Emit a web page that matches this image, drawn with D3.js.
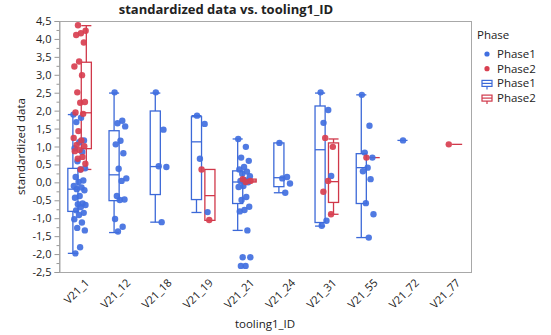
<!DOCTYPE html>
<html>
  <head>
    <meta charset="utf-8">
    <style>
    body {
      margin: 0px;
      background: white;
    }
    text {
      font-family: "Open Sans", "Noto Sans", sans-serif;
      fill: #222;
    }
    </style>
  </head>
  <body>
    <div id="elm"></div>

    <script src="https://d3js.org/d3.v7.min.js"></script>
    <script>
    'use strict';

    // tooling IDs along the x axis
    var categories = ['V21_1', 'V21_12', 'V21_18', 'V21_19', 'V21_21', 'V21_24', 'V21_31', 'V21_55', 'V21_72', 'V21_77'];
    var phases = ['Phase1', 'Phase2'];

    // standardized values per tooling, Phase1
    var phase1Points = [
      [1.89, 1.80, 1.68, 1.17, 1.12, 0.95, 0.85, 0.59, 0.39, 0.36, 0.15, 0.05, 0.01, -0.10, -0.14, -0.19, -0.22, -0.38, -0.43,
       -0.59, -0.61, -0.63, -0.69, -0.78, -0.85, -0.91, -1.03, -1.12, -1.27, -1.34, -1.81, -1.98],
      [2.51, 1.72, 1.65, 1.56, 1.16, 1.06, 0.81, 0.38, 0.11, 0.04, -0.38, -0.48, -0.49, -1.02, -1.24, -1.37],
      [2.51, 1.47, 0.45, 0.43, -1.11],
      [1.86, 1.63, 0.66, -0.83],
      [1.21, 0.99, 0.69, 0.60, 0.43, 0.36, 0.30, 0.24, 0.17, 0.06, 0.04, 0.00, -0.10, -0.13, -0.41, -0.49, -0.68, -0.77,
       -0.81, -1.34, -2.09, -2.09, -2.33, -2.33],
      [1.10, 0.15, 0.11, -0.03, -0.29],
      [2.51, 2.02, 1.66, 0.18, -1.07, -1.21],
      [2.44, 1.58, 0.83, 0.69, 0.41, 0.31, 0.09, -0.58, -0.89, -1.54],
      [1.17],
      []
    ];

    // standardized values per tooling, Phase2
    var phase2Points = [
      [4.38, 4.23, 4.16, 4.11, 3.90, 3.37, 3.23, 2.99, 2.51, 2.24, 2.22, 1.95, 1.91, 1.43, 1.24, 1.17, 1.04, 1.01, 0.90,
       0.87, 0.71, 0.66, 0.52, 0.36],
      [], [],
      [0.36, -1.05],
      [0.09, 0.04, 0.01],
      [],
      [1.24, 0.99, 0.04, -0.26, -0.89],
      [0.69],
      [],
      [1.06]
    ];

    // box stats: [low whisker, q1, median, q3, high whisker]
    var phase1Boxes = [
      [-1.98, -0.81, -0.19, 0.39, 1.89],
      [-1.40, -0.51, 0.21, 1.44, 2.49],
      [-1.11, -0.34, 0.44, 1.99, 2.49],
      [-0.84, -0.48, 1.13, 1.83, 1.86],
      [-1.34, -0.59, 0.01, 0.32, 1.21],
      [-0.29, -0.12, 0.13, 1.10, 1.10],
      [-1.22, -1.12, 0.91, 2.13, 2.49],
      [-1.54, -0.59, 0.41, 0.80, 2.44],
      [1.17, 1.17, 1.17, 1.17, 1.17],
      null
    ];
    var phase2Boxes = [
      [0.36, 0.94, 1.94, 3.35, 4.37],
      null, null,
      [-1.06, -1.06, -0.37, 0.36, 0.36],
      [0.01, 0.01, 0.04, 0.09, 0.09],
      null,
      [-0.89, -0.56, 0.02, 1.10, 1.21],
      [0.69, 0.69, 0.69, 0.69, 0.69],
      null,
      [1.06, 1.06, 1.06, 1.06, 1.06]
    ];

    var yMajorTicks = d3.range(-2.5, 4.51, 0.5);
    var yMinorTicks = d3.range(-2.25, 4.5, 0.5);

    var width = 551, height = 335;
    var margin = { top: 21, right: 80, bottom: 63, left: 59 };
    var plotW = 471 - margin.left, plotH = 272 - margin.top;

    var dotColor = { Phase1: '#416fe0', Phase2: '#d83f50' };
    var lineColor = { Phase1: '#3c69d8', Phase2: '#d0384a' };

    var locale = d3.formatLocale({ decimal: ',', thousands: '.', grouping: [3], currency: ['', ''], minus: '-' });
    var fmt = locale.format('.1f');

    var svg = d3.select('#elm').append('svg')
      .attr('width', width)
      .attr('height', height);

    var x = d3.scaleBand().domain(categories).range([0, plotW]);
    var y = d3.scaleLinear().domain([-2.5, 4.5]).range([plotH, 0]);

    var g = svg.append('g').attr('transform', 'translate(' + margin.left + ',' + margin.top + ')');

    // frame
    g.append('rect')
      .attr('x', 0.5).attr('y', 0.5)
      .attr('width', plotW).attr('height', plotH)
      .attr('fill', 'none').attr('stroke', '#a8a8a8');

    // y axis
    var yAxis = g.append('g').attr('transform', 'translate(0.5,0)')
      .call(d3.axisLeft(y).tickValues(yMajorTicks).tickFormat(fmt).tickSize(5).tickPadding(3));
    yAxis.select('.domain').attr('stroke', '#a8a8a8');
    yAxis.selectAll('.tick line').attr('stroke', '#999');
    yAxis.selectAll('.tick text').style('font-size', '11px').attr('fill', '#222');
    g.append('g').attr('transform', 'translate(0.5,0)')
      .call(d3.axisLeft(y).tickValues(yMinorTicks).tickFormat('').tickSize(3))
      .call(function(a) { a.select('.domain').remove(); a.selectAll('line').attr('stroke', '#999'); });

    // x labels, rotated
    g.append('g').selectAll('text')
      .data(categories).join('text')
      .attr('transform', function(d) {
        return 'translate(' + (x(d) + x.bandwidth() / 2 + 5) + ',' + (plotH + 6) + ') rotate(-45)';
      })
      .attr('text-anchor', 'end')
      .attr('dy', '0.7em')
      .style('font-size', '11px')
      .text(function(d) { return d; });

    // boxes
    var boxW = x.bandwidth() * 0.245;
    var offset = x.bandwidth() * 0.163;

    function drawBoxes(boxes, phase, dir) {
      var col = lineColor[phase];
      var bg = g.append('g').attr('stroke', col).attr('fill', 'none').attr('stroke-width', 1.3);
      boxes.forEach(function(b, i) {
        if (!b) return;
        var cx = x(categories[i]) + x.bandwidth() / 2 + dir * offset;
        var x0 = cx - boxW / 2, x1 = cx + boxW / 2;
        if (b[4] > b[3]) {
          bg.append('line').attr('x1', cx).attr('x2', cx).attr('y1', y(b[3])).attr('y2', y(b[4]));
          bg.append('line').attr('x1', x0).attr('x2', x1).attr('y1', y(b[4])).attr('y2', y(b[4]));
        }
        if (b[0] < b[1]) {
          bg.append('line').attr('x1', cx).attr('x2', cx).attr('y1', y(b[1])).attr('y2', y(b[0]));
          bg.append('line').attr('x1', x0).attr('x2', x1).attr('y1', y(b[0])).attr('y2', y(b[0]));
        }
        bg.append('rect').attr('x', x0).attr('width', boxW)
          .attr('y', y(b[3])).attr('height', Math.max(0, y(b[1]) - y(b[3])));
        bg.append('line').attr('x1', x0).attr('x2', x1).attr('y1', y(b[2])).attr('y2', y(b[2]));
      });
    }
    drawBoxes(phase1Boxes, 'Phase1', -1);
    drawBoxes(phase2Boxes, 'Phase2', 1);

    // jittered points, deterministic spread around the category centre
    function jitter(i, k) {
      var f = ((i * 0.618034 + k * 0.37) % 1) - 0.5;
      return f * x.bandwidth() * 0.3;
    }

    function drawPoints(points, phase, k) {
      var pts = [];
      points.forEach(function(vals, i) {
        vals.forEach(function(v, j) {
          pts.push({ cat: categories[i], v: v, j: j });
        });
      });
      g.append('g').selectAll('circle')
        .data(pts).join('circle')
        .attr('cx', function(d) { return x(d.cat) + x.bandwidth() / 2 + jitter(d.j, k); })
        .attr('cy', function(d) { return y(d.v); })
        .attr('r', 3.2)
        .attr('fill', dotColor[phase])
        .attr('fill-opacity', 0.92);
    }
    drawPoints(phase1Points, 'Phase1', 0);
    drawPoints(phase2Points, 'Phase2', 1);

    // titles
    svg.append('text')
      .attr('x', 226).attr('y', 14)
      .attr('text-anchor', 'middle')
      .style('font-size', '13px').style('font-weight', 'bold')
      .attr('fill', '#000')
      .text('standardized data vs. tooling1_ID');

    svg.append('text')
      .attr('x', margin.left + plotW / 2).attr('y', 328)
      .attr('text-anchor', 'middle')
      .style('font-size', '11.5px')
      .text('tooling1_ID');

    svg.append('text')
      .attr('transform', 'translate(25,' + (margin.top + plotH / 2) + ') rotate(-90)')
      .attr('text-anchor', 'middle')
      .style('font-size', '11.5px')
      .text('standardized data');

    // legend
    var lg = svg.append('g').attr('transform', 'translate(477,0)');
    lg.append('text').attr('x', 0).attr('y', 39).style('font-size', '11.5px').text('Phase');
    phases.forEach(function(p, i) {
      var yy = 54 + i * 14.7;
      lg.append('circle').attr('cx', 10).attr('cy', yy).attr('r', 2.6).attr('fill', dotColor[p]);
      lg.append('text').attr('x', 20).attr('y', yy + 4).style('font-size', '11.5px').text(p);
    });
    phases.forEach(function(p, i) {
      var yy = 54 + (i + 2) * 14.7;
      var ic = lg.append('g').attr('stroke', lineColor[p]).attr('fill', 'none').attr('stroke-width', 1.2);
      ic.append('rect').attr('x', 5).attr('y', yy - 3).attr('width', 10).attr('height', 6);
      ic.append('line').attr('x1', 10).attr('x2', 10).attr('y1', yy + 3).attr('y2', yy + 6);
      ic.append('line').attr('x1', 5).attr('x2', 15).attr('y1', yy).attr('y2', yy);
      lg.append('text').attr('x', 20).attr('y', yy + 4).style('font-size', '11.5px').text(p);
    });
    </script>
  </body>
</html>
